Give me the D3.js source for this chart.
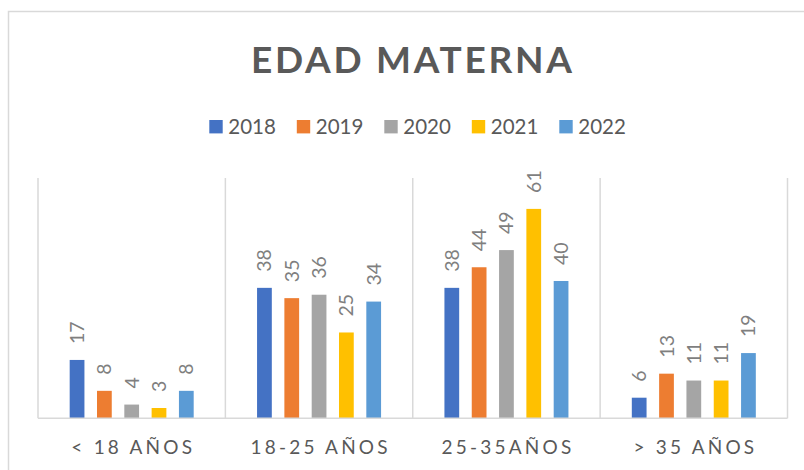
<!DOCTYPE html>
<html>
<head>
<meta charset="utf-8">
<script src="https://cdn.jsdelivr.net/npm/d3@7"></script>
<style>
  body { margin: 0; background: #fff; }
  svg { display: block; font-family: Lato, "Open Sans", sans-serif; }
</style>
</head>
<body>
<script>
const w = 804;
const h = 470;

// data
const categories = ['< 18 AÑOS', '18-25 AÑOS', '25-35AÑOS', '> 35 AÑOS'];
const years = ['2018', '2019', '2020', '2021', '2022'];
const v2018 = [17, 38, 38, 6];
const v2019 = [8, 35, 44, 13];
const v2020 = [4, 36, 49, 11];
const v2021 = [3, 25, 61, 11];
const v2022 = [8, 34, 40, 19];
const colors = ['#4472C4', '#ED7D31', '#A5A5A5', '#FFC000', '#5B9BD5'];

const series = [v2018, v2019, v2020, v2021, v2022];
const rows = [];
categories.forEach((c, i) => {
  years.forEach((yr, j) => rows.push({ cat: c, year: yr, value: series[j][i] }));
});

const plot = { left: 38, right: 787.5, top: 178, bottom: 418.3 };

const svg = d3.select('body').append('svg')
  .attr('width', w)
  .attr('height', h);

// chart border (runs off the right and bottom edge)
svg.append('rect')
  .attr('x', 8.5).attr('y', 11.5)
  .attr('width', 830).attr('height', 500)
  .attr('fill', '#fff')
  .attr('stroke', '#d9d9d9')
  .attr('stroke-width', 1.5);

// title
svg.append('text')
  .attr('x', 411.5)
  .attr('y', 73.3)
  .attr('text-anchor', 'middle')
  .attr('fill', '#595959')
  .style('font-size', '37px')
  .style('font-weight', 'bold')
  .attr('textLength', 321)
  .attr('lengthAdjust', 'spacing')
  .text('EDAD MATERNA');

// legend
const legendStep = 87.5;
const legend = svg.append('g')
  .attr('transform', 'translate(209.3, 120)');
const item = legend.selectAll('g')
  .data(years)
  .enter().append('g')
  .attr('transform', (d, i) => `translate(${i * legendStep}, 0)`);
item.append('rect')
  .attr('width', 13.4)
  .attr('height', 13.4)
  .attr('fill', (d, i) => colors[i]);
item.append('text')
  .attr('x', 19)
  .attr('y', 14.3)
  .attr('fill', '#595959')
  .style('font-size', '20.5px')
  .text((d) => d);

// scales
const x0 = d3.scaleBand()
  .domain(categories)
  .range([plot.left, plot.right])
  .padding(0);
const x1 = d3.scaleBand()
  .domain(years)
  .range([0, x0.bandwidth()])
  .paddingInner(0.46)
  .paddingOuter(1.16);
const y = d3.scaleLinear()
  .domain([0, 70])
  .range([plot.bottom, plot.top]);

// separators between categories
const seps = categories.map((c) => x0(c)).concat(plot.right);
svg.append('g')
  .selectAll('line')
  .data(seps)
  .enter().append('line')
  .attr('x1', (d) => d).attr('x2', (d) => d)
  .attr('y1', plot.top).attr('y2', plot.bottom)
  .attr('stroke', '#d9d9d9')
  .attr('stroke-width', 1.5);

// bars
svg.append('g')
  .selectAll('rect')
  .data(rows)
  .enter().append('rect')
  .attr('x', (d) => x0(d.cat) + x1(d.year))
  .attr('y', (d) => y(d.value))
  .attr('width', x1.bandwidth())
  .attr('height', (d) => y(0) - y(d.value))
  .attr('fill', (d) => colors[years.indexOf(d.year)]);

// baseline
svg.append('line')
  .attr('x1', plot.left).attr('x2', plot.right)
  .attr('y1', plot.bottom).attr('y2', plot.bottom)
  .attr('stroke', '#d9d9d9')
  .attr('stroke-width', 1.5);

// value labels
svg.append('g')
  .selectAll('text')
  .data(rows)
  .enter().append('text')
  .attr('transform', (d) => `translate(${x0(d.cat) + x1(d.year) + x1.bandwidth() / 2}, ${y(d.value) - 16}) rotate(-90)`)
  .attr('dy', '0.36em')
  .attr('fill', '#7f7f7f')
  .style('font-size', '19.5px')
  .text((d) => d.value);

// category labels
const spacing = 3.2;
svg.append('g')
  .selectAll('text')
  .data(categories)
  .enter().append('text')
  .attr('x', (d) => x0(d) + x0.bandwidth() / 2)
  .attr('dx', spacing / 2)
  .attr('y', 454)
  .attr('text-anchor', 'middle')
  .attr('fill', '#595959')
  .style('font-size', '19px')
  .style('letter-spacing', spacing + 'px')
  .text((d) => d);
</script>
</body>
</html>
